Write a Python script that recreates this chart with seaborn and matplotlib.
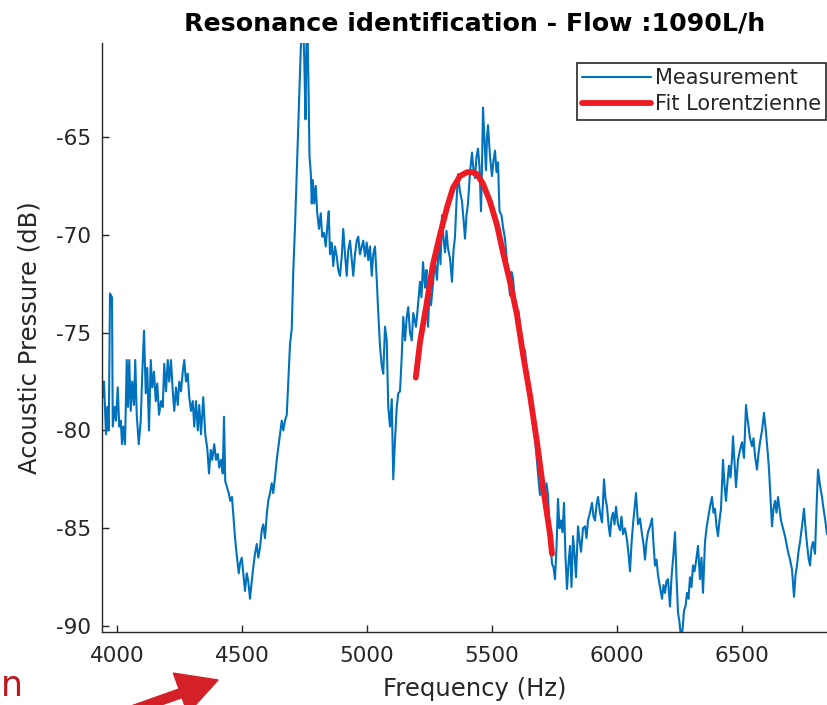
import matplotlib
matplotlib.use("Agg")
import matplotlib.pyplot as plt
import seaborn as sns

# ---------------- data ----------------
title = "Resonance identification - Flow :1090L/h"
x_label = "Frequency (Hz)"
y_label = "Acoustic Pressure (dB)"
series_names = ["Measurement", "Fit Lorentzienne"]
x_ticks = [4000, 4500, 5000, 5500, 6000, 6500]
y_ticks = [-90, -85, -80, -75, -70, -65]

freq_a = [3935, 3943, 3948, 3956, 3961, 3967, 3972, 3980, 3983, 3991, 3996, 4003, 4009, 4015, 4020, 4025,
          4032, 4039, 4044, 4049, 4055, 4061, 4068, 4073, 4079, 4087, 4095, 4101, 4108, 4115, 4121, 4128,
          4135, 4141, 4148, 4155, 4161, 4168, 4176, 4183, 4189, 4196, 4203, 4209, 4216, 4223, 4229, 4236,
          4243, 4249, 4256, 4263, 4269, 4276, 4283, 4289, 4296, 4303, 4309, 4316, 4323, 4329, 4336, 4345,
          4353, 4361, 4368, 4375, 4381, 4389, 4396, 4403, 4409, 4416, 4423, 4428, 4433, 4440, 4447, 4453,
          4460, 4465, 4471, 4476, 4481, 4487, 4492, 4499, 4505, 4512, 4519, 4525, 4532, 4539, 4545, 4552,
          4559, 4565, 4572, 4579, 4585, 4592, 4599, 4605, 4612, 4619, 4625, 4632, 4639, 4645, 4652, 4659,
          4665, 4672, 4679, 4685, 4692]
db_a = [-76.6, -78.3, -77.5, -80.2, -78.8, -80.0, -73.0, -73.2, -79.8, -78.8, -79.5, -77.8, -79.8, -79.5, -80.7, -79.8,
        -80.7, -76.4, -78.8, -76.4, -79.0, -77.5, -78.7, -76.4, -79.2, -80.7, -79.5, -77.1, -74.9, -78.1, -76.8, -80.0,
        -76.4, -77.8, -77.0, -78.5, -77.6, -79.2, -78.5, -78.8, -76.6, -78.0, -76.4, -77.5, -76.4, -78.0, -79.0, -77.8,
        -78.7, -77.5, -78.0, -77.0, -76.4, -77.5, -77.1, -78.3, -79.0, -78.5, -79.8, -78.5, -80.0, -78.7, -80.2, -78.3,
        -80.2, -80.9, -82.2, -81.0, -81.5, -80.7, -81.5, -81.2, -81.9, -81.5, -82.2, -79.3, -82.6, -82.9, -83.2, -83.6,
        -83.4, -84.3, -85.3, -86.0, -86.6, -87.3, -86.8, -86.5, -87.3, -88.2, -87.3, -87.7, -88.6, -87.7, -87.0, -86.3,
        -85.8, -86.5, -86.0, -85.1, -84.8, -85.5, -84.3, -83.6, -83.2, -82.7, -83.2, -82.4, -81.5, -80.9, -80.2, -79.5,
        -80.0, -79.5, -79.2, -77.5, -75.6]

freq_b = [4699, 4705, 4712, 4719, 4725, 4732, 4738, 4744, 4749, 4754, 4758, 4762, 4766, 4770, 4775, 4779,
          4783, 4789, 4795, 4801, 4808, 4815, 4821, 4828, 4835, 4841, 4847, 4852, 4859, 4865, 4872, 4879,
          4885, 4892, 4899, 4905, 4912, 4919, 4925, 4932, 4939, 4945, 4952, 4959, 4965, 4972, 4979, 4985,
          4992, 4999, 5005, 5012, 5019, 5025, 5032, 5039, 5045, 5052, 5059, 5065, 5072, 5079, 5085, 5092,
          5099, 5105, 5112, 5119, 5125, 5132, 5139, 5145, 5152, 5159, 5165, 5172, 5179]
db_b = [-74.8, -71.9, -69.6, -66.8, -64.3, -61.7, -59.5, -59.0, -61.0, -64.1, -60.0, -59.5, -62.5, -66.0, -66.8, -68.4,
        -67.2, -68.4, -67.5, -68.9, -69.7, -68.9, -70.1, -69.9, -70.6, -69.6, -68.8, -71.0, -70.4, -71.6, -70.6, -71.1,
        -71.8, -72.1, -71.1, -69.7, -71.0, -72.1, -70.8, -70.3, -71.3, -72.1, -71.0, -70.3, -70.1, -71.0, -70.6, -70.3,
        -71.1, -70.4, -71.3, -70.6, -72.1, -71.0, -70.6, -72.3, -74.0, -75.7, -76.7, -77.1, -74.7, -75.4, -78.8, -79.8,
        -78.4, -82.5, -80.5, -78.8, -78.1, -78.0, -76.2, -74.2, -75.4, -74.2, -73.7, -75.0, -75.4]

freq_c = [5185, 5196, 5204, 5212, 5218, 5224, 5232, 5238, 5244, 5250, 5256, 5264, 5272, 5280, 5288, 5294,
          5300, 5306, 5312, 5318, 5324, 5332, 5340, 5346, 5352, 5358, 5364, 5372, 5380, 5386, 5392, 5398,
          5404, 5412, 5420, 5426, 5432, 5438, 5444, 5450, 5456, 5460, 5464, 5470, 5476, 5480, 5484, 5492,
          5500, 5506, 5512, 5518, 5524, 5530, 5538, 5544, 5552, 5560, 5566, 5572, 5578, 5584, 5592, 5600,
          5606, 5612, 5618, 5624, 5632, 5640, 5646, 5652, 5658, 5664, 5672, 5680, 5686, 5692, 5700, 5706,
          5712, 5718, 5724, 5732, 5740, 5746, 5752, 5758, 5764]
db_c = [-74.0, -74.7, -73.6, -72.4, -73.2, -71.4, -72.7, -71.8, -74.7, -73.0, -73.6, -72.5, -71.4, -72.3, -70.2, -71.5,
        -69.0, -70.2, -70.9, -69.8, -70.7, -71.2, -72.4, -70.8, -70.1, -68.3, -66.9, -67.8, -68.3, -69.2, -70.2, -69.0,
        -68.4, -66.8, -65.8, -66.7, -67.1, -66.0, -65.6, -66.5, -68.8, -66.5, -63.5, -65.2, -66.7, -65.0, -64.4, -66.0,
        -67.0, -66.2, -65.7, -66.8, -66.3, -68.8, -69.0, -69.6, -70.2, -71.4, -72.2, -73.1, -71.9, -72.2, -73.5, -74.7,
        -73.9, -74.7, -75.5, -76.5, -75.9, -77.3, -77.9, -78.7, -78.3, -79.8, -80.4, -81.6, -82.5, -83.3, -82.8, -83.5,
        -83.6, -82.7, -83.3, -85.5, -86.8, -87.0, -87.6, -86.0, -83.5]

freq_d = [5770, 5776, 5782, 5788, 5794, 5800, 5806, 5812, 5818, 5824, 5830, 5836, 5844, 5850, 5856, 5864,
          5872, 5878, 5884, 5892, 5900, 5906, 5912, 5918, 5924, 5932, 5940, 5948, 5954, 5960, 5966, 5972,
          5978, 5984, 5990, 5996, 6004, 6012, 6018, 6024, 6032, 6040, 6046, 6052, 6058, 6064, 6070, 6076,
          6084, 6092, 6100, 6106, 6112, 6118, 6124, 6132, 6140, 6146, 6152, 6158, 6164, 6172, 6180, 6186,
          6192, 6198, 6204, 6212, 6218, 6226, 6232, 6238, 6244, 6250, 6256, 6262, 6268, 6274, 6280]
db_d = [-85.0, -84.6, -85.2, -83.7, -86.5, -88.1, -86.8, -85.9, -88.0, -85.4, -86.3, -87.5, -84.9, -85.6, -86.2, -85.0,
        -84.9, -85.5, -84.6, -84.2, -83.7, -84.4, -84.6, -83.8, -83.4, -84.2, -84.7, -82.5, -83.5, -83.9, -84.8, -85.4,
        -84.5, -84.2, -84.8, -83.9, -84.8, -85.1, -84.4, -85.3, -85.0, -85.6, -86.3, -87.2, -85.8, -84.8, -84.0, -83.2,
        -84.8, -84.5, -85.3, -85.8, -86.6, -85.7, -85.2, -84.9, -84.5, -85.8, -86.9, -86.6, -87.4, -88.0, -88.6, -87.9,
        -88.3, -87.7, -87.6, -89.0, -87.5, -86.3, -85.2, -87.5, -89.3, -89.8, -90.6, -90.2, -89.2, -89.0, -88.3]

freq_e = [6286, 6292, 6298, 6304, 6310, 6316, 6324, 6332, 6338, 6344, 6352, 6358, 6364, 6372, 6380, 6386,
          6392, 6398, 6404, 6410, 6416, 6424, 6430, 6436, 6442, 6448, 6454, 6460, 6464, 6470, 6476, 6484,
          6492, 6500, 6508, 6516, 6520, 6524, 6532, 6540, 6546, 6552, 6560, 6566, 6572, 6580, 6588, 6596,
          6602, 6608, 6614, 6620, 6626, 6632, 6638, 6644, 6650, 6656, 6664, 6672, 6678, 6684, 6692, 6700,
          6708, 6714, 6720, 6726, 6732, 6740, 6748, 6754, 6760, 6766, 6772, 6778, 6784, 6792, 6798, 6804,
          6812, 6820, 6826, 6832, 6840, 6848, 6856]
db_e = [-88.6, -87.5, -88.0, -86.9, -87.2, -86.7, -85.9, -87.6, -86.5, -88.3, -85.7, -85.0, -84.5, -83.9, -83.4, -84.2,
        -84.0, -84.9, -85.4, -84.6, -84.0, -81.5, -82.8, -83.6, -82.6, -81.8, -82.4, -81.4, -80.3, -81.6, -82.9, -81.5,
        -81.0, -80.6, -81.4, -78.7, -79.2, -79.6, -80.4, -80.8, -80.4, -81.3, -82.0, -81.2, -80.6, -80.0, -79.1, -80.1,
        -81.0, -82.0, -83.5, -84.9, -84.0, -83.6, -84.2, -83.4, -84.0, -84.6, -85.0, -85.4, -85.8, -86.2, -86.6, -87.1,
        -88.5, -87.4, -86.9, -86.2, -85.7, -84.9, -84.0, -85.0, -85.8, -86.5, -86.9, -86.0, -85.7, -86.3, -84.0, -82.0,
        -82.8, -83.4, -84.0, -84.5, -85.3, -85.0, -84.6]

fit_f = [5195, 5212, 5240, 5264, 5292, 5320, 5344, 5372, 5400, 5420, 5440, 5464, 5492, 5520, 5544, 5572,
         5600, 5624, 5652, 5680, 5704, 5732, 5740]
fit_db = [-77.3, -75.5, -73.4, -71.5, -70.0, -68.6, -67.6, -67.0, -66.8, -66.8, -66.9, -67.4, -68.3, -69.5, -70.9, -72.4,
          -74.1, -76.1, -78.2, -80.6, -82.9, -85.3, -86.3]

# ---------------- style ----------------
sns.set_style("white")
plt.rcParams["font.family"] = ["DejaVu Sans"]
plt.rcParams["axes.unicode_minus"] = False

meas_f = freq_a + freq_b + freq_c + freq_d + freq_e
meas_db = db_a + db_b + db_c + db_d + db_e
assert len(meas_f) == len(meas_db)
assert len(fit_f) == len(fit_db)

W, H = 827, 705
fig = plt.figure(figsize=(W / 100, H / 100), dpi=100)
ax = fig.add_axes([102 / W, 1 - 632 / H, (848 - 102) / W, (632 - 43) / H])

dark = "#262626"
sns.lineplot(x=meas_f, y=meas_db, ax=ax, color="#0072BD", lw=1.5, sort=False,
             estimator=None, label=series_names[0])
sns.lineplot(x=fit_f, y=fit_db, ax=ax, color="#ED1C24", lw=4.2, sort=False,
             estimator=None, label=series_names[1])

ax.set_xlim(3940, 6924)
ax.set_ylim(-90.3, -60.2)
ax.set_xticks(x_ticks)
ax.set_yticks(y_ticks)
ax.set_xticklabels([str(v) for v in x_ticks])
ax.set_yticklabels([str(v) for v in y_ticks])

for side in ["top", "right"]:
    ax.spines[side].set_visible(False)
for side in ["left", "bottom"]:
    ax.spines[side].set_color(dark)
    ax.spines[side].set_linewidth(1.0)

ax.tick_params(axis="both", which="major", bottom=True, left=True, direction="in",
               length=5, width=1.0, color=dark, labelcolor=dark, labelsize=15.5)
ax.tick_params(axis="y", pad=8)
ax.tick_params(axis="x", pad=10)

ax.set_xlabel(x_label, fontsize=17.5, color=dark, labelpad=8)
ax.set_ylabel(y_label, fontsize=17.5, color=dark, labelpad=10)
ax.set_title(title, fontsize=18.2, fontweight="bold", color="black", pad=9)

handles, labels = ax.get_legend_handles_labels()
leg = ax.legend(handles, labels, loc="upper right",
                bbox_to_anchor=(826 / W, 1 - 63 / H), bbox_transform=fig.transFigure,
                fontsize=15, frameon=True, fancybox=False, framealpha=1,
                edgecolor=dark, borderpad=0.25, labelspacing=0.3,
                handlelength=3.3, handletextpad=0.2, borderaxespad=0)
leg.get_frame().set_linewidth(1.2)
for t in leg.get_texts():
    t.set_color(dark)

# cropped red annotation at the bottom left of the reference
fig.text(0.5 / W, 9 / H, "n", color="#C0141C", fontsize=25, ha="left", va="baseline")
ax.annotate("", xy=(218, 25), xytext=(125, -8), xycoords="figure pixels",
            textcoords="figure pixels", annotation_clip=False,
            arrowprops=dict(arrowstyle="simple,head_length=1.3,head_width=1.4,tail_width=0.3",
                            color="#D42027", mutation_scale=22, shrinkA=0, shrinkB=0))

fig.savefig("out.png", dpi=100)
